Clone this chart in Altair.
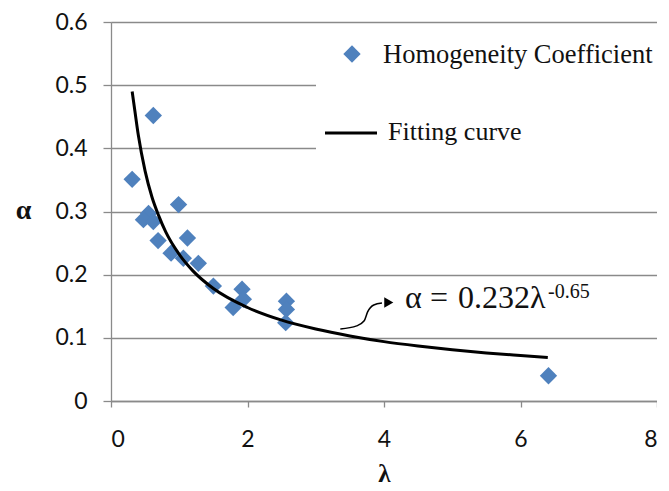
import altair as alt
import pandas as pd

# Scatter data: Homogeneity Coefficient
lam_pts = [0.62, 0.31, 0.99, 0.55, 0.475, 0.62, 0.69, 1.12, 0.88, 1.06, 1.28,
           1.50, 1.92, 1.94, 1.79, 2.57, 2.57, 2.56, 6.41]
alpha_pts = [0.452, 0.351, 0.311, 0.297, 0.287, 0.284, 0.254, 0.258, 0.234, 0.226, 0.218,
             0.182, 0.177, 0.161, 0.148, 0.158, 0.145, 0.124, 0.040]

# Fitting curve
curve_lam = [0.31, 0.35, 0.4, 0.5, 0.6, 0.7, 0.8, 1.0, 1.2, 1.5, 2.0, 2.5, 3.0,
             3.5, 4.0, 4.5, 5.0, 5.5, 6.0, 6.4]
curve_alpha = [0.49, 0.459, 0.421, 0.364, 0.323, 0.293, 0.268, 0.232, 0.206, 0.178,
               0.148, 0.128, 0.114, 0.103, 0.094, 0.087, 0.081, 0.076, 0.072, 0.069]

# Annotation arrow path
arrow_lam = [3.36, 3.60, 3.71, 3.76, 3.85, 3.97]
arrow_alpha = [0.114, 0.119, 0.127, 0.141, 0.152, 0.155]
arrow_head_lam = [4.07]
arrow_head_alpha = [0.156]

x_ticks = [0, 2, 4, 6, 8]
y_ticks = [0, 0.1, 0.2, 0.3, 0.4, 0.5, 0.6]

BLUE = "#4F81BD"
GRAY = "#8a8a8a"
TXT = "#111111"

pts = pd.DataFrame({"lam": lam_pts, "alpha": alpha_pts})
curve = pd.DataFrame({"lam": curve_lam, "alpha": curve_alpha, "o": list(range(len(curve_lam)))})
arrow = pd.DataFrame({"lam": arrow_lam, "alpha": arrow_alpha, "o": list(range(len(arrow_lam)))})
head = pd.DataFrame({"lam": arrow_head_lam, "alpha": arrow_head_alpha})
one = pd.DataFrame({"k": [0]})

xs = alt.Scale(domain=[0, 8], nice=False, zero=False)
ys = alt.Scale(domain=[0, 0.6], nice=False, zero=False)

xaxis = alt.Axis(values=x_ticks, format="d", title="λ", grid=False,
                 tickSize=6, tickColor=GRAY, domainColor=GRAY, domainWidth=1.3, tickWidth=1.3,
                 labelFont="Lato", labelFontSize=23, labelColor=TXT, labelPadding=21,
                 titleFont="Liberation Serif", titleFontSize=25, titleFontWeight="bold",
                 titleColor=TXT, titleY=72, titleBaseline="middle")
yaxis = alt.Axis(values=y_ticks, format=".1~f", title="α", grid=True,
                 gridColor=GRAY, gridWidth=1.3,
                 tickSize=8, tickColor=GRAY, domainColor=GRAY, domainWidth=1.3, tickWidth=1.3,
                 labelFont="Lato", labelFontSize=23, labelColor=TXT, labelPadding=16,
                 titleFont="Liberation Serif", titleFontSize=28, titleFontWeight="bold",
                 titleColor=TXT, titleAngle=0, titleX=-88, titleY=188,
                 titleAlign="center", titleBaseline="middle")

base_pts = alt.Chart(pts).mark_point(shape="diamond", filled=True, size=300, opacity=1,
                                     color=BLUE).encode(
    x=alt.X("lam:Q", scale=xs, axis=xaxis),
    y=alt.Y("alpha:Q", scale=ys, axis=yaxis),
)

legend_box = alt.Chart(one).mark_rect(color="white").encode(
    x=alt.value(205), x2=alt.value(546), y=alt.value(8), y2=alt.value(162))

curve_line = alt.Chart(curve).mark_line(color="black", strokeWidth=3,
                                        interpolate="monotone").encode(
    x=alt.X("lam:Q", scale=xs), y=alt.Y("alpha:Q", scale=ys), order="o:Q")

arrow_line = alt.Chart(arrow).mark_line(color="black", strokeWidth=1.5,
                                        interpolate="monotone").encode(
    x=alt.X("lam:Q", scale=xs), y=alt.Y("alpha:Q", scale=ys), order="o:Q")

arrow_head = alt.Chart(head).mark_point(shape="triangle-right", filled=True, size=110,
                                        opacity=1, color="black").encode(
    x=alt.X("lam:Q", scale=xs), y=alt.Y("alpha:Q", scale=ys))

leg_diamond = alt.Chart(one).mark_point(shape="diamond", filled=True, size=300, opacity=1,
                                        color=BLUE).encode(x=alt.value(241), y=alt.value(32))
leg_text1 = alt.Chart(one).mark_text(align="left", baseline="middle", font="Liberation Serif",
                                     fontSize=26.5, color=TXT).encode(
    x=alt.value(272), y=alt.value(33), text=alt.value("Homogeneity Coefficient"))
leg_line = alt.Chart(one).mark_rule(color="black", strokeWidth=3).encode(
    x=alt.value(214), x2=alt.value(266), y=alt.value(111))
leg_text2 = alt.Chart(one).mark_text(align="left", baseline="middle", font="Liberation Serif",
                                     fontSize=26, color=TXT).encode(
    x=alt.value(277), y=alt.value(110), text=alt.value("Fitting curve"))

eq_style = dict(align="left", baseline="alphabetic", font="Liberation Serif", color=TXT)
eq_a = alt.Chart(one).mark_text(fontSize=32, **eq_style).encode(
    x=alt.value(294), y=alt.value(286), text=alt.value("α"))
eq_eq = alt.Chart(one).mark_text(fontSize=32, **eq_style).encode(
    x=alt.value(319), y=alt.value(286), text=alt.value("="))
eq_num = alt.Chart(one).mark_text(fontSize=32, **eq_style).encode(
    x=alt.value(347), y=alt.value(286), text=alt.value("0.232λ"))
eq_sup = alt.Chart(one).mark_text(fontSize=20, **eq_style).encode(
    x=alt.value(437), y=alt.value(276), text=alt.value("-0.65"))

chart = alt.layer(
    base_pts, legend_box, curve_line, arrow_line, arrow_head,
    leg_diamond, leg_text1, leg_line, leg_text2, eq_a, eq_eq, eq_num, eq_sup,
).properties(
    width=546, height=379,
    autosize=alt.AutoSizeParams(type="none"),
    padding={"left": 103, "top": 14, "right": 0, "bottom": 85},
).configure_view(stroke=None).configure(background="white")

chart.save("out.html", embed_options={"renderer": "svg", "actions": False})
